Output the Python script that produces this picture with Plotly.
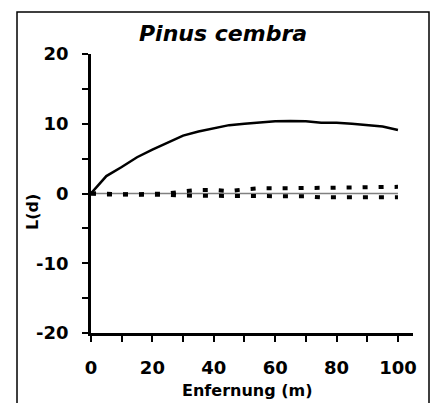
import plotly.graph_objects as go

distance = [0, 5, 10, 15, 20, 25, 30, 35, 40, 45, 50, 55, 60, 65, 70, 75, 80, 85, 90, 95, 100]
L_obs = [0, 2.5, 3.8, 5.2, 6.3, 7.3, 8.3, 8.9, 9.4, 9.8, 10.0, 10.2, 10.35, 10.4, 10.35, 10.15, 10.15, 10.0, 9.8, 9.6, 9.1]
env_upper = [0, -0.1, -0.1, -0.1, -0.1, 0.0, 0.3, 0.5, 0.5, 0.35, 0.6, 0.75, 0.75, 0.75, 0.75, 0.8, 0.85, 0.85, 0.9, 0.95, 0.95]
env_lower = [0, -0.15, -0.15, -0.15, -0.15, -0.2, -0.3, -0.35, -0.35, -0.35, -0.35, -0.4, -0.4, -0.4, -0.4, -0.55, -0.55, -0.55, -0.55, -0.55, -0.55]
zero_ref = [0] * len(distance)

x_ticks = [0, 20, 40, 60, 80, 100]
x_ticklabels = ["0", "20", "40", "60", "80", "100"]
y_ticks = [-20, -10, 0, 10, 20]
y_ticklabels = ["-20", "-10", "0", "10", "20"]

FONT = "DejaVu Sans"

fig = go.Figure()
fig.add_trace(go.Scatter(x=distance, y=zero_ref, mode="lines",
                         line=dict(color="#808080", width=1.5), hoverinfo="skip"))
fig.add_trace(go.Scatter(x=distance, y=env_upper, mode="lines",
                         line=dict(color="black", width=4, dash="5px,11px")))
fig.add_trace(go.Scatter(x=distance, y=env_lower, mode="lines",
                         line=dict(color="black", width=4, dash="5px,11px")))
fig.add_trace(go.Scatter(x=distance, y=L_obs, mode="lines",
                         line=dict(color="black", width=2.5)))

axis_common = dict(showline=True, linecolor="black", linewidth=2.5, showgrid=False,
                   zeroline=False, ticks="outside", ticklen=6, tickwidth=2, tickcolor="black",
                   tickfont=dict(family=FONT, size=18, color="black", weight="bold"))

fig.update_xaxes(range=[0, 104.9], tickmode="array", tickvals=x_ticks, ticktext=x_ticklabels,
                 minor=dict(dtick=10, tick0=0, ticks="outside", ticklen=6, tickwidth=2, tickcolor="black"),
                 ticklabelstandoff=11, **axis_common)
fig.update_yaxes(range=[-20, 20], tickmode="array", tickvals=y_ticks, ticktext=y_ticklabels,
                 minor=dict(dtick=5, tick0=0, ticks="outside", ticklen=6, tickwidth=2, tickcolor="black"),
                 ticklabelstandoff=10, **axis_common)

fig.update_layout(
    width=438, height=403,
    margin=dict(l=91, r=25, t=54, b=70),
    paper_bgcolor="white", plot_bgcolor="white",
    showlegend=False,
    shapes=[dict(type="rect", xref="paper", yref="paper",
                 x0=-0.2298, x1=1.0497, y0=-0.27, y1=1.1505,
                 line=dict(color="black", width=1.5))],
    annotations=[
        dict(text="<b><i>Pinus cembra</i></b>", xref="paper", yref="paper",
             x=(223 - 91) / 322, y=(333 - 33) / 279, xanchor="center", yanchor="middle",
             showarrow=False, font=dict(family=FONT, size=22, color="black")),
        dict(text="<b>Enfernung (m)</b>", xref="paper", yref="paper",
             x=(247 - 91) / 322, y=(333 - 390) / 279, xanchor="center", yanchor="middle",
             showarrow=False, font=dict(family=FONT, size=16, color="black")),
        dict(text="<b>L(d)</b>", xref="paper", yref="paper", textangle=-90,
             x=(32 - 91) / 322, y=(333 - 212) / 279, xanchor="center", yanchor="middle",
             showarrow=False, font=dict(family=FONT, size=16, color="black")),
    ],
)

fig.write_html("out.html")
